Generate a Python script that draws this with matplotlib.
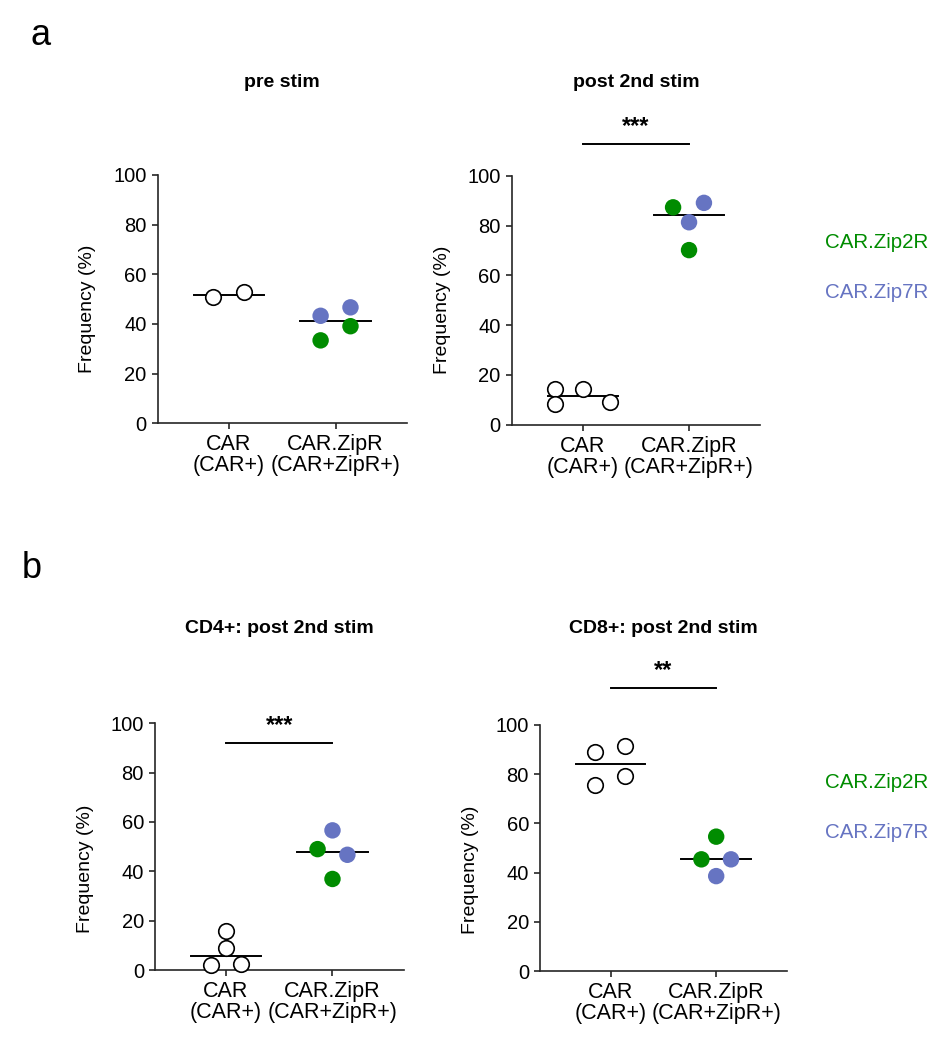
import numpy as np
import matplotlib
matplotlib.use("Agg")
import matplotlib.pyplot as plt

plt.rcParams['font.family'] = ['Liberation Sans', 'DejaVu Sans']

# ---------------- data ----------------
group_labels = ['CAR\n(CAR+)', 'CAR.ZipR\n(CAR+ZipR+)']
panel_titles = ['pre stim', 'post 2nd stim', 'CD4+: post 2nd stim', 'CD8+: post 2nd stim']
legend_labels = ['CAR.Zip2R', 'CAR.Zip7R']

pre_car = [50.7, 52.8]
pre_zip2 = [33.4, 39.1]
pre_zip7 = [43.3, 46.7]

post_car = [14.4, 8.2, 14.4, 9.0]
post_zip2 = [87.4, 70.2]
post_zip7 = [89.2, 81.4]

cd4_car = [15.9, 8.9, 2.0, 2.3]
cd4_zip2 = [49.0, 36.9]
cd4_zip7 = [56.6, 46.7]

cd8_car = [88.8, 91.2, 79.2, 75.4]
cd8_zip2 = [54.6, 45.4]
cd8_zip7 = [45.4, 38.6]

significance = [None, '***', '***', '**']
sig_bar_y = [None, 113, 92, 115]

# horizontal scatter offsets (layout, not data)
pre_dx = ([-0.15, 0.14], [-0.14, 0.14], [-0.14, 0.14])
post_dx = ([-0.26, -0.26, 0.0, 0.26], [-0.15, 0.0], [0.14, 0.0])
cd4_dx = ([0.0, 0.0, -0.14, 0.14], [-0.14, 0.0], [0.0, 0.14])
cd8_dx = ([-0.15, 0.135, 0.135, -0.15], [0.0, -0.14], [0.14, 0.0])

panels = [
    (pre_car, pre_zip2, pre_zip7, pre_dx),
    (post_car, post_zip2, post_zip7, post_dx),
    (cd4_car, cd4_zip2, cd4_zip7, cd4_dx),
    (cd8_car, cd8_zip2, cd8_zip7, cd8_dx),
]

GREEN = '#008c00'
BLUE = '#6674c2'
AXC = '#262626'

W, H = 952, 1050
fig = plt.figure(figsize=(W / 100, H / 100), dpi=100)

def px_rect(l, r, t, b):
    return [l / W, 1 - b / H, (r - l) / W, (b - t) / H]

rects = [
    px_rect(157.7, 406.7, 175, 423.3),
    px_rect(511.7, 760.0, 176, 424.7),
    px_rect(155.0, 403.5, 723.3, 970),
    px_rect(540.0, 786.7, 724.7, 971.3),
]
title_pos = [(282, 87.3), (636, 87.3), (279, 633), (663, 633)]
ylabel_y = [0.46, 0.46, 0.41, 0.41]

for i, (rect, (car, z2, z7, dx)) in enumerate(zip(rects, panels)):
    ax = fig.add_axes(rect)
    ax.set_xlim(-0.667, 1.667)
    ax.set_ylim(0, 100)
    ax.set_yticks(np.arange(0, 101, 20))
    ax.set_xticks([0, 1])
    ax.set_xticklabels(group_labels, fontsize=15.5, linespacing=1.0)
    for s in ['top', 'right']:
        ax.spines[s].set_visible(False)
    for s in ['left', 'bottom']:
        ax.spines[s].set_linewidth(1.2)
        ax.spines[s].set_color(AXC)
    ax.tick_params(axis='both', direction='out', length=4, width=1.2, color=AXC)
    ax.tick_params(axis='y', labelsize=14.5, pad=4)
    ax.tick_params(axis='x', pad=4)

    # median lines
    zip_all = list(z2) + list(z7)
    ax.plot([-0.33, 0.33], [np.median(car)] * 2, color='black', lw=1.4, zorder=2, clip_on=False)
    ax.plot([1 - 0.33, 1 + 0.33], [np.median(zip_all)] * 2, color='black', lw=1.4, zorder=2, clip_on=False)

    # points
    ax.scatter(np.array(dx[0]), car, s=125, facecolor='white', edgecolor='black',
               linewidth=1.2, zorder=3, clip_on=False)
    ax.scatter(1 + np.array(dx[1]), z2, s=140, color=GREEN, edgecolor='none', zorder=3, clip_on=False)
    ax.scatter(1 + np.array(dx[2]), z7, s=140, color=BLUE, edgecolor='none', zorder=3, clip_on=False)

    ax.text(-0.28, ylabel_y[i], 'Frequency (%)', transform=ax.transAxes, rotation=90,
            ha='center', va='center', fontsize=14)

    if significance[i]:
        y = sig_bar_y[i]
        ax.plot([0, 1], [y, y], color='black', lw=1.4, clip_on=False)
        ax.annotate(significance[i], xy=(0.5, y), xytext=(0, 8), textcoords='offset points',
                    ha='center', va='baseline', fontsize=17, fontweight='bold',
                    annotation_clip=False)

    tx, ty = title_pos[i]
    fig.text(tx / W, 1 - ty / H, panel_titles[i], ha='center', va='baseline',
             fontsize=14, fontweight='bold')

# panel letters
fig.text(30 / W, 1 - 45 / H, 'a', fontsize=26, ha='left', va='baseline')
fig.text(22 / W, 1 - 578 / H, 'b', fontsize=26, ha='left', va='baseline')

# colour legends
for base_y in (248, 788):
    fig.text(825 / W, 1 - base_y / H, legend_labels[0], color=GREEN, fontsize=14.8,
             ha='left', va='baseline')
    fig.text(825 / W, 1 - (base_y + 50) / H, legend_labels[1], color=BLUE, fontsize=14.8,
             ha='left', va='baseline')

fig.savefig('out.png', dpi=100)
